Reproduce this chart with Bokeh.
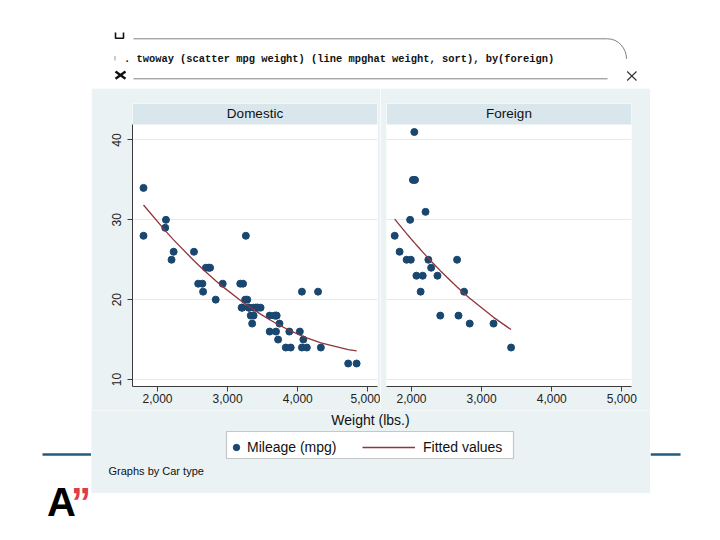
from bokeh.plotting import figure
from bokeh.layouts import column, row
from bokeh.models import (Range1d, FixedTicker, Grid, Label, BoxAnnotation,
                          Legend, LegendItem, Spacer)
from bokeh.embed import file_html
from bokeh.resources import INLINE

# ---------------- data (1978 automobile data) ----------------
dom_weight = [2930, 3350, 2640, 3250, 4080, 3670, 2230, 3280, 3880, 3400, 4330, 3900, 4290,
              2110, 3690, 3180, 3220, 2750, 3430, 2120, 3600, 3600, 3740, 1800, 2650, 4840,
              4720, 3830, 2580, 4060, 3720, 3370, 4130, 2830, 4060, 3310, 3300, 3690, 3370,
              2730, 4030, 3260, 1800, 2200, 2520, 3330, 3700, 3470, 3210, 3200, 3420, 2690]
dom_mpg = [22, 17, 22, 20, 15, 18, 26, 20, 16, 19, 14, 14, 21,
           29, 16, 22, 22, 24, 19, 30, 18, 16, 17, 28, 21, 12,
           12, 14, 22, 14, 15, 18, 14, 20, 21, 19, 19, 18, 19,
           24, 16, 28, 34, 25, 26, 18, 18, 19, 19, 19, 19, 24]
for_weight = [2830, 2070, 2650, 2370, 2020, 2280, 2750, 2130, 2240, 1760, 1980,
              3420, 1830, 2050, 2410, 2200, 2670, 2160, 2040, 1930, 1990, 3170]
for_mpg = [17, 23, 25, 23, 35, 24, 21, 21, 25, 28, 30,
           14, 26, 35, 18, 31, 18, 23, 41, 25, 25, 17]

# fitted values (mpghat), sorted by weight
dom_fit_weight = [1800, 2110, 2120, 2200, 2230, 2520, 2580, 2640, 2650, 2690, 2730, 2750,
                  2830, 2930, 3180, 3200, 3210, 3220, 3250, 3260, 3280, 3300, 3310, 3330,
                  3350, 3370, 3400, 3420, 3430, 3470, 3600, 3670, 3690, 3700, 3720, 3740,
                  3830, 3880, 3900, 4030, 4060, 4080, 4130, 4290, 4330, 4720, 4840]
dom_fit_mpg = [31.86, 28.65, 28.55, 27.77, 27.49, 24.87, 24.36, 23.87, 23.79, 23.46, 23.14, 22.99,
               22.37, 21.63, 19.92, 19.79, 19.72, 19.66, 19.47, 19.41, 19.29, 19.16, 19.10, 18.98,
               18.86, 18.75, 18.57, 18.46, 18.40, 18.18, 17.48, 17.13, 17.03, 16.99, 16.89, 16.80,
               16.39, 16.17, 16.09, 15.57, 15.46, 15.39, 15.21, 14.70, 14.59, 13.74, 13.57]
for_fit_weight = [1760, 1830, 1930, 1980, 1990, 2020, 2040, 2050, 2070, 2130, 2160,
                  2200, 2240, 2280, 2370, 2410, 2650, 2670, 2750, 2830, 3170, 3420]
for_fit_mpg = [30.09, 29.33, 28.27, 27.75, 27.65, 27.35, 27.14, 27.04, 26.84, 26.25, 25.96,
               25.57, 25.19, 24.81, 23.99, 23.63, 21.58, 21.42, 20.78, 20.17, 17.78, 16.25]

panel_titles = ["Domestic", "Foreign"]
x_ticks = [2000, 3000, 4000, 5000]
x_tick_labels = ["2,000", "3,000", "4,000", "5,000"]
y_ticks = [10, 20, 30, 40]
y_tick_labels = ["10", "20", "30", "40"]
x_title = "Weight (lbs.)"
legend_labels = ["Mileage (mpg)", "Fitted values"]
note_text = "Graphs by Car type"
command_text = ". twoway (scatter mpg weight) (line mpghat weight, sort), by(foreign)"

# ---------------- styles ----------------
BG = "#EAF2F3"
STRIP = "#D9E6EB"
NAVY = "#1A476F"
MAROON = "#90353B"
GRID = "#E3EBEE"
AXIS = "#3A3A3A"
FONT = "Liberation Sans"

X_LO, X_HI = 1643, 5138
Y_LO, Y_PLOT_TOP, Y_TOP = 9.12, 41.94, 44.57


def panel(title, w, m, fw, fm, width, left, right, show_y):
    p = figure(width=width, height=322,
               x_range=Range1d(X_LO, X_HI), y_range=Range1d(Y_LO, Y_TOP),
               output_backend="svg", toolbar_location=None,
               min_border_left=left, min_border_right=right,
               min_border_top=15, min_border_bottom=24,
               y_axis_location="left" if show_y else None,
               background_fill_color="white", border_fill_color=BG,
               outline_line_color=None)
    p.center = [r for r in p.center if not isinstance(r, Grid)]
    p.add_layout(Grid(dimension=1, ticker=FixedTicker(ticks=y_ticks),
                      grid_line_color=GRID, grid_line_width=1))
    # strip with panel title
    p.add_layout(BoxAnnotation(bottom=Y_PLOT_TOP, fill_color=STRIP, fill_alpha=1.0,
                               line_color=None, level="underlay"))
    p.add_layout(Label(x=(X_LO + X_HI) / 2, y=(Y_PLOT_TOP + Y_TOP) / 2, text=title,
                       text_align="center", text_baseline="middle",
                       text_font=FONT, text_font_size="13.5px", text_color="#111111"))
    ax = p.xaxis[0]
    ax.ticker = FixedTicker(ticks=x_ticks)
    ax.major_label_overrides = dict(zip(x_ticks, x_tick_labels))
    ax.minor_tick_line_color = None
    ax.major_tick_in = 0
    ax.major_tick_out = 5
    ax.major_label_standoff = 2
    ax.axis_line_color = AXIS
    ax.major_tick_line_color = AXIS
    ax.major_label_text_font = FONT
    ax.major_label_text_font_size = "12px"
    ax.major_label_text_color = "#222222"
    if show_y:
        ay = p.yaxis[0]
        ay.ticker = FixedTicker(ticks=y_ticks)
        ay.major_label_overrides = dict(zip(y_ticks, y_tick_labels))
        ay.bounds = (Y_LO, Y_PLOT_TOP)
        ay.minor_tick_line_color = None
        ay.major_tick_in = 0
        ay.major_tick_out = 5
        ay.major_label_standoff = 6
        ay.major_label_orientation = "vertical"
        ay.axis_line_color = AXIS
        ay.major_tick_line_color = AXIS
        ay.major_label_text_font = FONT
        ay.major_label_text_font_size = "12px"
        ay.major_label_text_color = "#222222"
    p.scatter(w, m, size=7, color=NAVY, line_color=NAVY)
    p.line(fw, fm, line_color=MAROON, line_width=1.3)
    return p


p1 = panel(panel_titles[0], dom_weight, dom_mpg, dom_fit_weight, dom_fit_mpg,
           289, 41, 3, True)
p2 = panel(panel_titles[1], for_weight, for_mpg, for_fit_weight, for_fit_mpg,
           270, 6, 19, False)

# ---------------- bottom of graph region: x title, legend, note ----------------
bot = figure(width=559, height=83, x_range=Range1d(0, 559), y_range=Range1d(0, 83),
             output_backend="svg", toolbar_location=None,
             x_axis_location=None, y_axis_location=None, min_border=0,
             background_fill_color=BG, border_fill_color=BG, outline_line_color=None)
bot.center = []
bot.add_layout(Label(x=279, y=74, text=x_title, text_align="center", text_baseline="middle",
                     text_font=FONT, text_font_size="14px", text_color="#111111"))
bot.add_layout(BoxAnnotation(left=135, right=422, bottom=35, top=62, fill_color="white",
                             fill_alpha=1.0, line_color="#555555", line_width=1.2))
# legend-only renderers (their single point lies outside the visible range)
r_sc = bot.scatter(x=[-100], y=[-100], size=7, color=NAVY, line_color=NAVY)
r_ln = bot.line(x=[-100, -90], y=[-100, -100], line_color=MAROON, line_width=1.3)
legA = Legend(items=[LegendItem(label=legend_labels[0], renderers=[r_sc])],
              location=(137, 38.5), orientation="horizontal", glyph_width=16, glyph_height=16,
              label_standoff=3, padding=0, margin=0, border_line_color=None,
              background_fill_alpha=0, label_text_font=FONT, label_text_font_size="14px",
              label_text_color="#111111")
legB = Legend(items=[LegendItem(label=legend_labels[1], renderers=[r_ln])],
              location=(271, 38.5), orientation="horizontal", glyph_width=53, glyph_height=16,
              label_standoff=8, padding=0, margin=0, border_line_color=None,
              background_fill_alpha=0, label_text_font=FONT, label_text_font_size="14px",
              label_text_color="#111111")
bot.add_layout(legA)
bot.add_layout(legB)
bot.add_layout(Label(x=17, y=23, text=note_text, text_align="left", text_baseline="middle",
                     text_font=FONT, text_font_size="11px", text_color="#111111"))


# ---------------- slide decorations (page-pixel coordinates) ----------------
def deco(width, height, x0, x1, y0, y1):
    d = figure(width=width, height=height, x_range=Range1d(x0, x1), y_range=Range1d(y1, y0),
               output_backend="svg", toolbar_location=None,
               x_axis_location=None, y_axis_location=None, min_border=0,
               background_fill_color="white", border_fill_color="white",
               outline_line_color=None)
    d.center = []
    return d


top = deco(720, 88, 0, 720, 0, 88)
top.line([115, 115, 123, 123], [32, 37.7, 37.7, 32], line_color="#111111", line_width=1.6)
top.segment(x0=[133], y0=[38.3], x1=[607], y1=[38.3], line_color="#808080", line_width=1)
top.bezier(x0=[607], y0=[38.3], x1=[626], y1=[58.3], cx0=[618], cy0=[38.3], cx1=[626], cy1=[48],
           line_color="#808080", line_width=1)
top.segment(x0=[114.5], y0=[55.5], x1=[114.5], y1=[60], line_color="#999999", line_width=1)
top.add_layout(Label(x=123.5, y=58, text=command_text, text_align="left", text_baseline="middle",
                     text_font="Liberation Mono", text_font_style="bold",
                     text_font_size="10.4px", text_color="#111111"))
top.segment(x0=[115, 115], y0=[71, 78.3], x1=[125, 125], y1=[78.3, 71],
            line_color="#111111", line_width=2.3)
top.segment(x0=[133], y0=[78.3], x1=[607], y1=[78.3], line_color="#808080", line_width=1)
top.segment(x0=[626.7, 626.7], y0=[71, 80], x1=[636, 636], y1=[80, 71],
            line_color="#333333", line_width=1.1)

left = deco(91, 452, 0, 91, 88, 540)
left.segment(x0=[42], y0=[454], x1=[91], y1=[454], line_color="#215C80", line_width=2.5)
left.add_layout(Label(x=46.5, y=501.5, text="A", text_align="left", text_baseline="alphabetic",
                      text_font=FONT, text_font_style="bold", text_font_size="40px",
                      text_color="#000000"))
left.add_layout(Label(x=70.5, y=501.5, text="\u201d", text_align="left", text_baseline="alphabetic",
                      text_font=FONT, text_font_style="bold", text_font_size="40px",
                      text_color="#E03A4B"))

right = deco(70, 452, 650, 720, 88, 540)
right.segment(x0=[650], y0=[454], x1=[680], y1=[454], line_color="#215C80", line_width=2.5)

graph = column(row(p1, p2), bot, Spacer(width=559, height=47))
layout = column(top, row(left, graph, right))

open("out.html", "w").write(file_html(layout, INLINE))
